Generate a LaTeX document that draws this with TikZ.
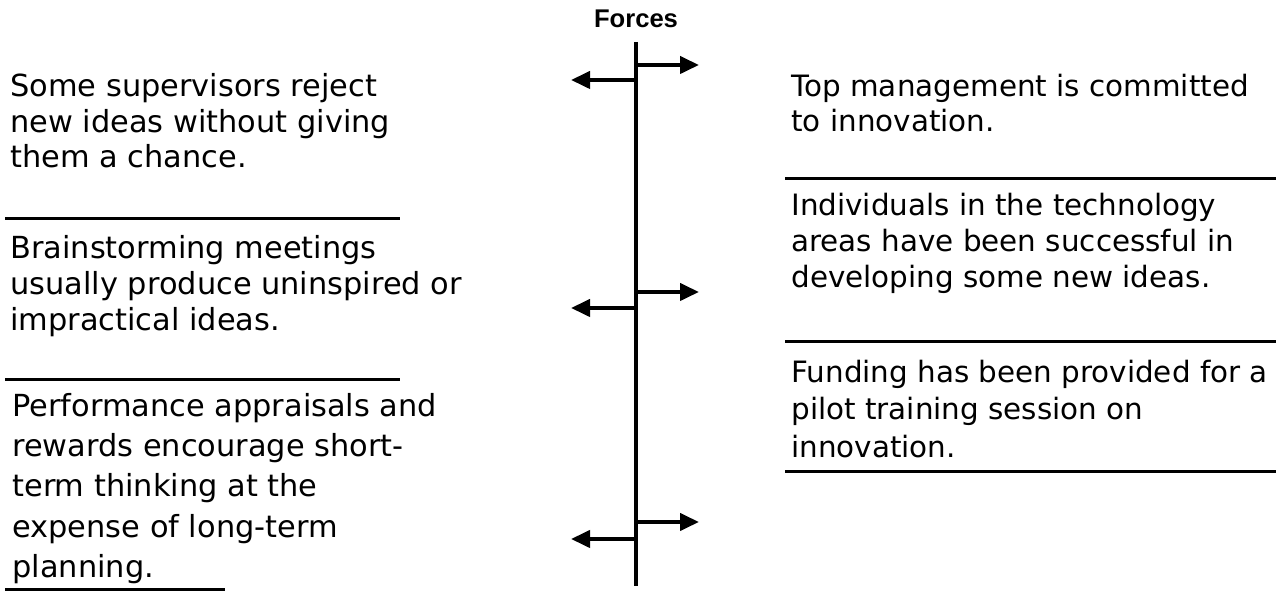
\documentclass[tikz,border=0pt]{standalone}
\usepackage{fontspec}
\setmainfont{DejaVu Sans}
\newfontfamily\headfont{Liberation Sans}
\usetikzlibrary{arrows.meta}
\begin{document}
\begin{tikzpicture}[x=0.5pt,y=-0.5pt,
  ltxt/.style={anchor=base west,inner sep=0pt,font=\fontsize{15.2}{18}\selectfont},
  rtxt/.style={anchor=base west,inner sep=0pt,font=\fontsize{14.7}{18}\selectfont},
  sep/.style={line width=1.5pt},
  axis/.style={line width=1.7pt},
  force/.style={line width=2pt,-{Triangle[length=9.5pt,width=8.5pt]}}]
\useasboundingbox (0,0) rectangle (1276,592);
% title
\node[anchor=base,inner sep=0pt,font=\headfont\bfseries\fontsize{12.8}{15}\selectfont] (title) at (636,28) {Forces};
% axis
\coordinate (axtop) at (636,42);
\coordinate (axbot) at (636,586);
\draw[axis] (axtop) -- (axbot);
% arrows
\coordinate (r1s) at (636,65);  \coordinate (r1e) at (699,65);
\coordinate (l1s) at (636,80);  \coordinate (l1e) at (571,80);
\coordinate (r2s) at (636,292); \coordinate (r2e) at (699,292);
\coordinate (l2s) at (636,308); \coordinate (l2e) at (571,308);
\coordinate (r3s) at (636,522); \coordinate (r3e) at (699,522);
\coordinate (l3s) at (636,539); \coordinate (l3e) at (571,539);
\draw[force] (r1s) -- (r1e);
\draw[force] (l1s) -- (l1e);
\draw[force] (r2s) -- (r2e);
\draw[force] (l2s) -- (l2e);
\draw[force] (r3s) -- (r3e);
\draw[force] (l3s) -- (l3e);
% left texts
\node[ltxt] (a1) at (10,97)  {Some supervisors reject};
\node[ltxt] (a2) at (10,132.5) {new ideas without giving};
\node[ltxt] (a3) at (10,168) {them a chance.};
\coordinate (ls1a) at (5,219); \coordinate (ls1b) at (400,219);
\draw[sep] (ls1a) -- (ls1b);
\node[ltxt] (b1) at (10,259) {Brainstorming meetings};
\node[ltxt] (b2) at (10,295) {usually produce uninspired or};
\node[ltxt] (b3) at (10,331) {impractical ideas.};
\coordinate (ls2a) at (5,380); \coordinate (ls2b) at (400,380);
\draw[sep] (ls2a) -- (ls2b);
\node[ltxt] (c1) at (12,417) {Performance appraisals and};
\node[ltxt] (c2) at (12,457) {rewards encourage short-};
\node[ltxt] (c3) at (12,497) {term thinking at the};
\node[ltxt] (c4) at (12,538) {expense of long-term};
\node[ltxt] (c5) at (12,578) {planning.};
\coordinate (ls3a) at (5,590); \coordinate (ls3b) at (225,590);
\draw[sep] (ls3a) -- (ls3b);
% right texts
\node[rtxt] (d1) at (791,97)  {Top management is committed};
\node[rtxt] (d2) at (791,132) {to innovation.};
\coordinate (rs1a) at (785,179); \coordinate (rs1b) at (1276,179);
\draw[sep] (rs1a) -- (rs1b);
\node[rtxt] (e1) at (791,216) {Individuals in the technology};
\node[rtxt] (e2) at (791,252) {areas have been successful in};
\node[rtxt] (e3) at (791,288) {developing some new ideas.};
\coordinate (rs2a) at (785,342); \coordinate (rs2b) at (1276,342);
\draw[sep] (rs2a) -- (rs2b);
\node[rtxt] (f1) at (791,383) {Funding has been provided for a};
\node[rtxt] (f2) at (791,420) {pilot training session on};
\node[rtxt] (f3) at (791,458) {innovation.};
\coordinate (rs3a) at (785,472); \coordinate (rs3b) at (1276,472);
\draw[sep] (rs3a) -- (rs3b);
\end{tikzpicture}
\end{document}
